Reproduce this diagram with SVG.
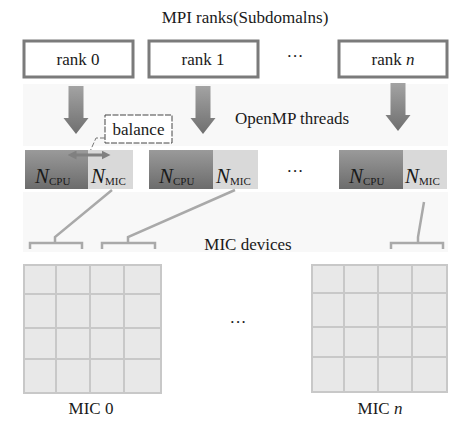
<svg xmlns="http://www.w3.org/2000/svg" width="471" height="436" viewBox="0 0 471 436">
<defs>
<linearGradient id="arrowGrad" x1="0" y1="0" x2="0" y2="1">
<stop offset="0" stop-color="#a3a3a3"/>
<stop offset="1" stop-color="#6f6f6f"/>
</linearGradient>
<linearGradient id="cpuGrad" x1="0" y1="0" x2="0" y2="1">
<stop offset="0" stop-color="#9a9a9a"/>
<stop offset="1" stop-color="#6c6c6c"/>
</linearGradient>
<marker id="dh" viewBox="0 0 10 10" refX="5" refY="5" markerWidth="3" markerHeight="3" orient="auto-start-reverse">
<path d="M0,0 L10,5 L0,10 z" fill="#808080"/>
</marker>
<symbol id="downArrow" overflow="visible">
<path d="M-7.5,0 H7.5 V32 H12.5 L0,48 L-12.5,32 H-7.5 Z" fill="url(#arrowGrad)"/>
</symbol>
</defs>
<style>
text{font-family:"Liberation Serif","Times New Roman",serif;fill:#1a1a1a}
.lbl{font-size:17px;text-anchor:middle}
.rank{fill:#fff;stroke:#7b7b7b;stroke-width:3}
.cpu{fill:url(#cpuGrad)}
.mic{fill:#d9d9d9}
.nN{font-size:21px;font-style:italic}
.sub{font-size:11px;font-style:normal}
.conn{stroke:#a9a9a9;stroke-width:2.5;fill:none}
.grid{fill:#e8e8e8;stroke:#c8c8c8;stroke-width:2}
.gl{stroke:#c8c8c8;stroke-width:2}
.bg{fill:#f8f8f8}
</style>
<rect width="471" height="436" fill="#fff"/>
<rect class="bg" x="23" y="84" width="425" height="62"/>
<rect class="bg" x="23" y="192" width="425" height="60"/>

<text class="lbl" x="245" y="23" font-size="18">MPI ranks(Subdomalns)</text>

<g id="rank0"><rect class="rank" x="24" y="41" width="109" height="36"/><text class="lbl" x="78" y="65">rank 0</text></g>
<g id="rank1"><rect class="rank" x="149" y="41" width="109" height="36"/><text class="lbl" x="203" y="65">rank 1</text></g>
<text class="lbl" x="295" y="62">···</text>
<g id="rankn"><rect class="rank" x="339" y="41" width="108" height="36"/><text class="lbl" x="393" y="65">rank <tspan font-style="italic">n</tspan></text></g>

<g id="arrows">
<use href="#downArrow" x="76" y="86"/>
<use href="#downArrow" x="203" y="86"/>
<use href="#downArrow" x="398" y="83"/>
</g>

<text class="lbl" x="292" y="124">OpenMP threads</text>

<g id="balance">
<rect x="105" y="115" width="67" height="28" fill="#fff" stroke="#444" stroke-width="1" stroke-dasharray="6,1.5"/>
<text class="lbl" x="138.5" y="135">balance</text>
<path d="M105,138 L96,138 L88,156" fill="none" stroke="#777" stroke-width="1" stroke-dasharray="5,2"/>
</g>

<g id="node0">
<rect class="cpu" x="25" y="150" width="63" height="39"/>
<rect class="mic" x="88" y="150" width="45" height="39"/>
<text class="nN" x="35" y="183">N<tspan class="sub" dy="2">CPU</tspan></text>
<text class="nN" x="91" y="183">N<tspan class="sub" dy="2">MIC</tspan></text>
<line x1="72" y1="155" x2="106" y2="155" stroke="#808080" stroke-width="3" marker-start="url(#dh)" marker-end="url(#dh)"/>
</g>
<g id="node1">
<rect class="cpu" x="149" y="150" width="64" height="39"/>
<rect class="mic" x="213" y="150" width="45" height="39"/>
<text class="nN" x="159" y="183">N<tspan class="sub" dy="2">CPU</tspan></text>
<text class="nN" x="216" y="183">N<tspan class="sub" dy="2">MIC</tspan></text>
</g>
<text class="lbl" x="295" y="177">···</text>
<g id="noden">
<rect class="cpu" x="339" y="150" width="64" height="39"/>
<rect class="mic" x="403" y="150" width="44" height="39"/>
<text class="nN" x="349" y="183">N<tspan class="sub" dy="2">CPU</tspan></text>
<text class="nN" x="405" y="183">N<tspan class="sub" dy="2">MIC</tspan></text>
</g>

<g id="connectors">
<path class="conn" d="M112,190 L55,237 V243 M30,249 V243 H82 V249"/>
<path class="conn" d="M235,190 L128,237 V243 M102,249 V243 H155 V249"/>
<path class="conn" d="M424,202 L418,237 V243 M391,249 V243 H443 V249"/>
</g>

<text class="lbl" x="248" y="250">MIC devices</text>

<g id="mic0">
<rect class="grid" x="24" y="265" width="137" height="128"/>
<path class="gl" d="M56,265 V393 M90,265 V393 M124,265 V393 M24,294 H161 M24,328 H161 M24,359 H161"/>
<text class="lbl" x="91" y="414">MIC 0</text>
</g>
<text class="lbl" x="238" y="328">···</text>
<g id="micn">
<rect class="grid" x="312" y="265" width="135" height="127"/>
<path class="gl" d="M344,265 V392 M378,265 V392 M412,265 V392 M312,293 H447 M312,327 H447 M312,357 H447"/>
<text class="lbl" x="380" y="414">MIC <tspan font-style="italic">n</tspan></text>
</g>
</svg>
